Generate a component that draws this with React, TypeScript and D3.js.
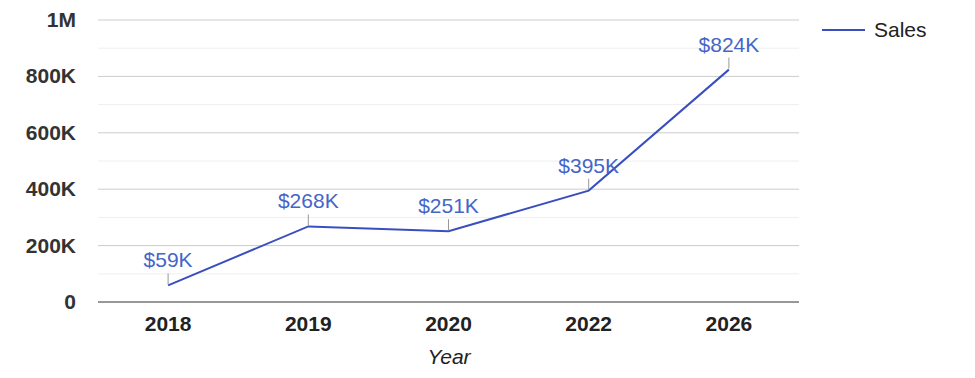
import React, { useEffect } from "react";
import * as d3 from "d3";

const years = ["2018", "2019", "2020", "2022", "2026"];
const sales = [59000, 268000, 251000, 395000, 824000];
const yTicks = [0, 200000, 400000, 600000, 800000, 1000000];
const yMinorTicks = [100000, 300000, 500000, 700000, 900000];
const seriesName = "Sales";
const xTitle = "Year";

const W = 975, H = 378;
const M = { left: 98, right: 799, top: 20, bottom: 302 };
const LINE = "#3a4fbf";
const FONT = "'Liberation Sans', Arial, sans-serif";

const fmtTick = (v: number) => (v === 0 ? "0" : v >= 1e6 ? `${v / 1e6}M` : `${v / 1e3}K`);
const fmtLabel = (v: number) => `$${Math.round(v / 1e3)}K`;

export default function App() {
  useEffect(() => {
    document.body.style.margin = "0";
  }, []);
  const x = d3.scaleBand<string>().domain(years).range([M.left, M.right]);
  const y = d3.scaleLinear().domain([0, 1000000]).range([M.bottom, M.top]);
  const cx = (d: string) => (x(d) as number) + x.bandwidth() / 2;
  const line = d3
    .line<number>()
    .x((_, i) => cx(years[i]))
    .y((d) => y(d));

  return (
    <svg width={W} height={H} style={{ display: "block", background: "#fff" }} fontFamily={FONT}>
      {yMinorTicks.map((t) => (
        <line key={"m" + t} x1={M.left} x2={M.right} y1={y(t)} y2={y(t)} stroke="#efefef" strokeWidth={1} />
      ))}
      {yTicks.map((t) => (
        <g key={t}>
          {t !== 0 && <line x1={M.left} x2={M.right} y1={y(t)} y2={y(t)} stroke="#cccccc" strokeWidth={1} />}
          <text x={76} y={y(t) + 7} textAnchor="end" fontSize={21} fontWeight="bold" fill="#333">
            {fmtTick(t)}
          </text>
        </g>
      ))}
      <line x1={M.left} x2={M.right} y1={y(0)} y2={y(0)} stroke="#333" strokeWidth={1.2} />
      {years.map((yr) => (
        <text key={yr} x={cx(yr)} y={331} textAnchor="middle" fontSize={21} fontWeight="bold" fill="#222">
          {yr}
        </text>
      ))}
      <text x={449} y={364} textAnchor="middle" fontSize={21} fontStyle="italic" fill="#222">
        {xTitle}
      </text>
      <path d={line(sales) || ""} fill="none" stroke={LINE} strokeWidth={2} />
      {sales.map((v, i) => (
        <g key={i}>
          <line x1={cx(years[i])} x2={cx(years[i])} y1={y(v) - 12} y2={y(v) - 1} stroke="#999" strokeWidth={1} />
          <text x={cx(years[i])} y={y(v) - 18} textAnchor="middle" fontSize={21} fill="#4565c8">
            {fmtLabel(v)}
          </text>
        </g>
      ))}
      <line x1={822} x2={865} y1={30} y2={30} stroke={LINE} strokeWidth={2} />
      <text x={874} y={37} fontSize={21} fill="#222">
        {seriesName}
      </text>
    </svg>
  );
}
